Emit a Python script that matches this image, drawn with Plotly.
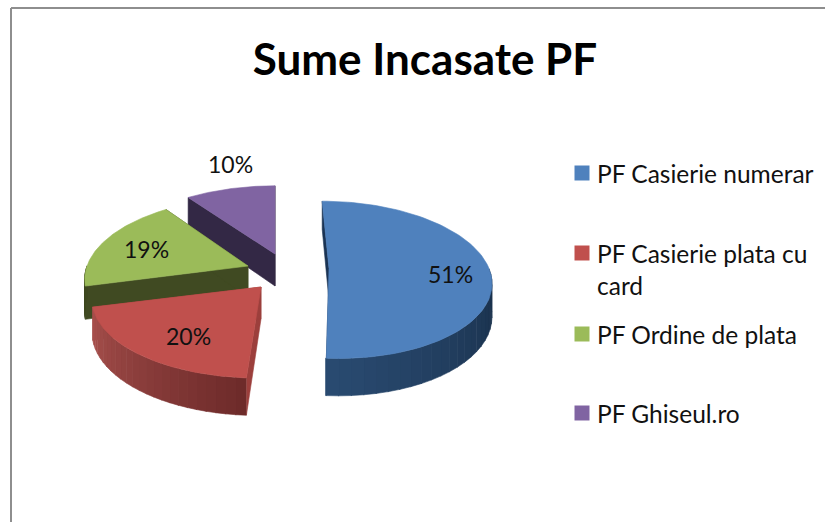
import numpy as np
import plotly.graph_objects as go

categories = ["PF Casierie numerar", "PF Casierie plata cu<br>card", "PF Ordine de plata", "PF Ghiseul.ro"]
values = [51, 20, 19, 10]

top_colors = ["#4f81bd", "#c0504d", "#9bbb59", "#8064a2"]
cut_colors = ["#1b3454", "#9c3f3c", "#404a22", "#332845"]
rim_start = ["#182e48", "#6e2b2a", "#404a22", "#332845"]
rim_end = ["#294a70", "#a8504d", "#404a22", "#332845"]
apex = [(329, 268.5), (261, 287), (248, 266), (275, 254)]
radius_x = [160, 167, 161, 165]
radius_y = [77, 78, 78, 78]
legend_y = [173, 253, 334, 413]
legend_text_y = [173, 269, 334, 413]
label_pos = [(450, 274), (188, 336), (146, 249), (230, 164)]
draw_order = [3, 2, 1, 0]

DEPTH, K, X0 = 32, 0.144, 275


def proj(i, t, h=0.0):
    ax, ay = apex[i]
    u, z = np.sin(t), -np.cos(t)
    s = 1 / (1 - K * z)
    return X0 + (ax - X0 + radius_x[i] * u) * s, ay + (radius_y[i] * z + h) * s


def mix(a, b, f):
    ca = [int(a[i:i + 2], 16) for i in (1, 3, 5)]
    cb = [int(b[i:i + 2], 16) for i in (1, 3, 5)]
    return "#" + "".join(f"{round(x + (y - x) * f):02x}" for x, y in zip(ca, cb))


def poly(xs, ys, color):
    return go.Scatter(x=list(xs), y=list(ys), mode="lines", fill="toself", fillcolor=color,
                      line=dict(color=color, width=0.6), hoverinfo="skip", showlegend=False)


fig = go.Figure()
edges = np.radians(np.concatenate([[0], np.cumsum(values)]) * 3.6)

for i in draw_order:
    ax, ay = apex[i]
    t0, t1 = edges[i], edges[i + 1]
    # cut walls
    for t in (t0, t1):
        ox, oy = proj(i, t)
        bx, by = proj(i, t, DEPTH)
        fig.add_trace(poly([ax, ox, bx, ax, ax], [ay, oy, by, ay + DEPTH, ay], cut_colors[i]))
    # outer rim, front half only
    a0, a1 = max(t0, np.pi / 2), min(t1, 3 * np.pi / 2)
    if a1 > a0:
        n = 24
        grid = np.linspace(a0, a1, n + 1)
        for j in range(n):
            tt = np.linspace(grid[j], grid[j + 1] + 0.004, 5)
            xt, yt = proj(i, tt)
            xb, yb = proj(i, tt[::-1], DEPTH)
            fig.add_trace(poly(np.r_[xt, xb], np.r_[yt, yb], mix(rim_start[i], rim_end[i], j / (n - 1))))
    # top face
    tt = np.linspace(t0, t1, 90)
    xt, yt = proj(i, tt)
    fig.add_trace(poly(np.r_[ax, xt, ax], np.r_[ay, yt, ay], top_colors[i]))

# legend swatches
fig.add_trace(go.Scatter(x=[582] * len(categories), y=legend_y, mode="markers", hoverinfo="skip",
                         showlegend=False,
                         marker=dict(symbol="square", size=15, color=top_colors, line=dict(width=0))))

FONT = "Lato"
annotations = []
for name, y in zip(categories, legend_text_y):
    annotations.append(dict(x=597, y=y, xref="x", yref="y", text=name, showarrow=False,
                            xanchor="left", yanchor="middle", align="left",
                            xshift=-2, font=dict(family=FONT, size=24.5, color="#111111")))
for v, (x, y) in zip(values, label_pos):
    annotations.append(dict(x=x, y=y, xref="x", yref="y", text=f"{v}%", showarrow=False,
                            xanchor="center", yanchor="middle",
                            font=dict(family=FONT, size=23, color="#111111")))

fig.update_layout(
    width=825, height=522, autosize=False,
    margin=dict(l=0, r=0, t=0, b=0),
    paper_bgcolor="white", plot_bgcolor="white", showlegend=False,
    xaxis=dict(range=[0, 825], visible=False, fixedrange=True),
    yaxis=dict(range=[522, 0], visible=False, fixedrange=True),
    title=dict(text="<b>Sume Incasate PF</b>", x=425 / 825, xanchor="center", y=1 - 60 / 522, yanchor="middle",
               font=dict(family=FONT, size=44, color="black")),
    annotations=annotations,
    shapes=[
        dict(type="line", xref="x", yref="y", x0=11, x1=825, y0=8, y1=8, line=dict(color="#8e8e8e", width=2)),
        dict(type="line", xref="x", yref="y", x0=11, x1=11, y0=8, y1=522, line=dict(color="#8e8e8e", width=2)),
    ],
)
fig.write_html("out.html", config={"displayModeBar": False},
               post_script="document.body.style.margin='0';window.dispatchEvent(new Event('resize'));")
